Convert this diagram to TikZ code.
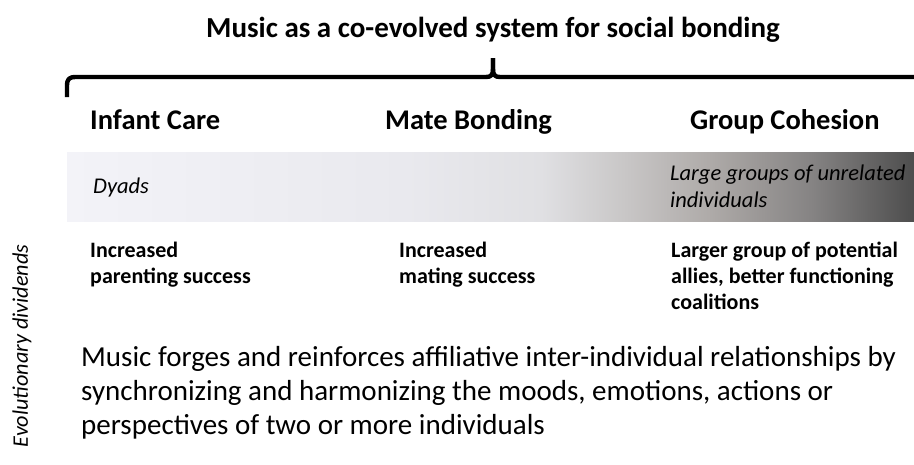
\documentclass[tikz,border=0pt]{standalone}
\usepackage{fontspec}
\setmainfont{Carlito}
\definecolor{s0}{HTML}{F3F3F8}
\definecolor{s1}{HTML}{E9E9EE}
\definecolor{s2}{HTML}{E0E0E3}
\definecolor{s3}{HTML}{C8C6C6}
\definecolor{s4}{HTML}{AEAAA8}
\definecolor{s5}{HTML}{858383}
\definecolor{s6}{HTML}{4D4D4D}
\pgfdeclarehorizontalshading{barshade}{100bp}{color(0bp)=(s0); color(25bp)=(s0); color(45bp)=(s1); color(53bp)=(s2); color(58bp)=(s3); color(63bp)=(s4); color(69bp)=(s5); color(75bp)=(s6); color(100bp)=(s6)}
\tikzset{
  titletext/.style={font=\fontsize{29}{34}\selectfont\bfseries, inner sep=0pt, anchor=base},
  headtext/.style={font=\fontsize{28.5}{34}\selectfont\bfseries, inner sep=0pt, anchor=base west},
  kindtext/.style={font=\fontsize{22.5}{27}\selectfont\itshape, inner sep=0pt, anchor=base west, align=left},
  divtext/.style={font=\fontsize{22}{26}\selectfont\bfseries, inner sep=0pt, anchor=base west, align=left},
  bodytext/.style={font=\fontsize{29}{34}\selectfont, inner sep=0pt, anchor=base west, align=left},
  sidetext/.style={font=\fontsize{22.2}{26}\selectfont\itshape, inner sep=0pt, rotate=90},
  bracestyle/.style={line width=4.4pt, line join=round}
}
\begin{document}
\begin{tikzpicture}[x=1pt,y=-1pt]
\useasboundingbox (0,0) rectangle (914,464);
% title
\node[titletext] (title) at (493,37) {Music as a co-evolved system for social bonding};
% brace
\coordinate (bl) at (67,97);
\coordinate (bt) at (493,58);
\coordinate (br) at (914,77);
\draw[bracestyle] (bl) -- (67,86) .. controls (67,79) and (69,77) .. (76,77) -- (486,77) .. controls (491,77) and (493,75) .. (493,69) -- (bt);
\draw[bracestyle] (bt) -- (493,69) .. controls (493,75) and (495,77) .. (500,77) -- (br);
% headings
\node[headtext] (h1) at (90,129) {Infant Care};
\node[headtext] (h2) at (385,129) {Mate Bonding};
\node[headtext] (h3) at (690,129) {Group Cohesion};
% gradient bar
\shade[shading=barshade] (67,152) rectangle (914,221);
\node[kindtext] (k1) at (93,193) {Dyads};
\node[kindtext] (k3) at (670,207) {Large groups of unrelated\\individuals};
% dividends
\node[divtext] (d1) at (90,283) {Increased\\parenting success};
\node[divtext] (d2) at (399,283) {Increased\\mating success};
\node[divtext] (d3) at (671,309) {Larger group of potential\\allies, better functioning\\coalitions};
% body
\node[bodytext] (body) at (81,434) {Music forges and reinforces affiliative inter-individual relationships by\\synchronizing and harmonizing the moods, emotions, actions or\\perspectives of two or more individuals};
% side label
\node[sidetext] (side) at (22,346) {Evolutionary dividends};
\end{tikzpicture}
\end{document}
